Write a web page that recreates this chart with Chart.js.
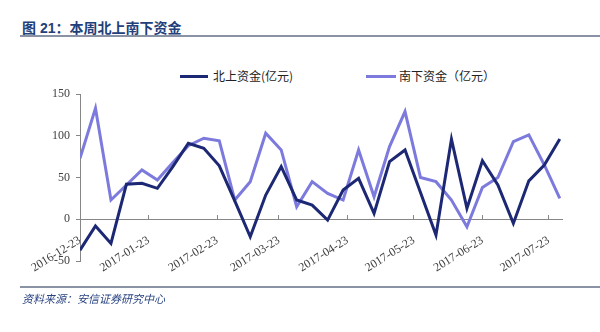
<!DOCTYPE html>
<html>
<head>
<meta charset="utf-8">
<script src="https://cdn.jsdelivr.net/npm/chart.js@4.4.0/dist/chart.umd.min.js"></script>
<style>
  body { margin: 0; background: #fff; }
  #wrap { position: relative; width: 600px; height: 332px; overflow: hidden; }
  #chart { position: absolute; left: 0; top: 0; }
  .title { position: absolute; left: 22px; top: 17px; font: bold 14px "Liberation Sans", "Noto Sans CJK SC", sans-serif; color: #22407a; white-space: nowrap; }
  .rule { position: absolute; left: 20px; right: 0; height: 2px; background: #8a93a6; }
  .source { position: absolute; left: 22px; top: 290px; font: italic 11px "Noto Sans CJK SC", sans-serif; color: #2a4482; white-space: nowrap; }
  .legend-item { position: absolute; top: 67px; height: 18px; font: 12px "Noto Sans CJK SC", sans-serif; color: #222; white-space: nowrap; }
  .legend-item i { position: absolute; top: 8px; height: 3px; }
  .legend-item span { position: absolute; top: 0; line-height: 18px; }
</style>
</head>
<body>
<div id="wrap">
  <div class="title">图 21：本周北上南下资金</div>
  <div class="rule" style="top:35px"></div>
  <div id="legend"></div>
  <canvas id="chart" width="600" height="332"></canvas>
  <div class="rule" style="top:286px"></div>
  <div class="source">资料来源：安信证券研究中心</div>
</div>
<script>
// weekly observation dates
const weeks = [
  '2016-12-23', '2016-12-30', '2017-01-06', '2017-01-13', '2017-01-20', '2017-01-27',
  '2017-02-03', '2017-02-10', '2017-02-17', '2017-02-24', '2017-03-03', '2017-03-10',
  '2017-03-17', '2017-03-24', '2017-03-31', '2017-04-07', '2017-04-14', '2017-04-21',
  '2017-04-28', '2017-05-05', '2017-05-12', '2017-05-19', '2017-05-26', '2017-06-02',
  '2017-06-09', '2017-06-16', '2017-06-23', '2017-06-30', '2017-07-07', '2017-07-14',
  '2017-07-21', '2017-07-28'
];

// 北上资金, 亿元
const northFlow = [
  -37, -8, -29, 42, 43, 37, 63, 91, 85, 64, 22, -21,
  29, 63, 23, 17, -1, 35, 49, 7, 69, 83, 32, -19,
  96, 13, 70, 41, -5, 46, 65, 96
];

// 南下资金, 亿元
const southFlow = [
  73, 133, 23, 41, 59, 47, 68, 88, 97, 94, 23, 45,
  103, 83, 15, 45, 31, 23, 83, 27, 87, 129, 50, 45,
  23, -9, 38, 50, 93, 101, 65, 25
];

const tickDates = [
  '2016-12-23', '2017-01-23', '2017-02-23', '2017-03-23',
  '2017-04-23', '2017-05-23', '2017-06-23', '2017-07-23'
];

const seriesNames = ['北上资金(亿元)', '南下资金（亿元）'];
const seriesColors = ['#1c2873', '#7d7ade'];

// x axis runs on day offsets from the first week
const DAY = 86400000;
const t0 = Date.parse(weeks[0]);
const dayOf = s => (Date.parse(s) - t0) / DAY;

const toPoints = vals => weeks.map((d, i) => ({ x: dayOf(d), y: vals[i] }));

// legend in html, laid out by hand
const legendPos = [{ line: 180, w: 28, text: 213 }, { line: 366, w: 30, text: 399 }];
document.getElementById('legend').innerHTML = seriesNames.map((name, i) =>
  `<div class="legend-item" style="left:${legendPos[i].line}px">
     <i style="left:0;width:${legendPos[i].w}px;background:${seriesColors[i]}"></i>
     <span style="left:${legendPos[i].text - legendPos[i].line}px">${name}</span>
   </div>`).join('');

const axisGrey = '#868686';
const tickFont = { family: '"Liberation Serif", "Times New Roman", serif', size: 12 };

new Chart(document.getElementById('chart'), {
  type: 'line',
  data: {
    datasets: [northFlow, southFlow].map((vals, i) => ({
      label: seriesNames[i],
      data: toPoints(vals),
      borderColor: seriesColors[i],
      backgroundColor: seriesColors[i],
      borderWidth: 3,
      pointRadius: 0,
      tension: 0,
      fill: false
    }))
  },
  options: {
    responsive: false,
    animation: false,
    layout: { padding: { left: 40, top: 94, right: 38, bottom: 71 } },
    plugins: { legend: { display: false }, tooltip: { enabled: false } },
    scales: {
      x: {
        type: 'linear',
        position: { y: 0 },
        min: 0,
        max: 218,
        afterBuildTicks: scale => {
          scale.ticks = tickDates.map(d => ({ value: dayOf(d) }));
        },
        ticks: {
          autoSkip: false,
          minRotation: 32,
          maxRotation: 32,
          padding: 19,
          color: '#404040',
          font: tickFont,
          callback: (value, index) => tickDates[index]
        },
        grid: { drawOnChartArea: false, drawTicks: true, tickLength: -5, color: axisGrey },
        border: { color: axisGrey, width: 1 }
      },
      y: {
        min: -50,
        max: 150,
        ticks: { stepSize: 50, padding: 6, color: '#404040', font: tickFont },
        grid: { drawOnChartArea: false, drawTicks: true, tickLength: 4, color: axisGrey },
        border: { color: axisGrey, width: 1 },
        afterFit: scale => { scale.width = 40; }
      }
    }
  }
});
</script>
</body>
</html>
